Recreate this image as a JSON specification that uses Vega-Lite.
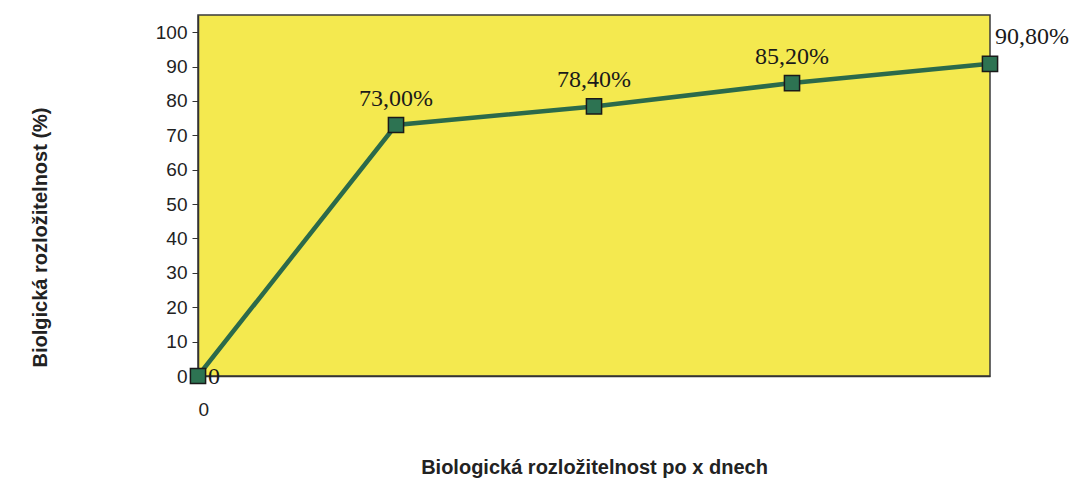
{
  "$schema": "https://vega.github.io/schema/vega-lite/v6.json",
  "autosize": "none",
  "width": 792,
  "height": 361,
  "padding": {"left": 198, "top": 15, "right": 90, "bottom": 105},
  "background": "white",
  "config": {
    "view": {"stroke": "#3a3a3a", "strokeWidth": 1.5, "fill": "#f4e94f"},
    "axis": {"grid": false, "labelFont": "Liberation Sans", "titleFont": "Liberation Sans", "labelColor": "#222", "titleColor": "#222", "domainColor": "#333", "tickColor": "#333"}
  },
  "data": {
    "values": [
      {"den": 0, "rozl": 0, "label": "0"},
      {"den": 1, "rozl": 73.0, "label": "73,00%"},
      {"den": 2, "rozl": 78.4, "label": "78,40%"},
      {"den": 3, "rozl": 85.2, "label": "85,20%"},
      {"den": 4, "rozl": 90.8, "label": "90,80%"}
    ]
  },
  "encoding": {
    "x": {
      "field": "den", "type": "quantitative",
      "scale": {"domain": [0, 4], "nice": false, "zero": false},
      "axis": {
        "values": [0], "tickSize": 0, "labelPadding": 24, "labelFontSize": 19,
        "domainWidth": 1.5,
        "title": "Biologická rozložitelnost po x dnech",
        "titleFontSize": 20, "titleFontWeight": "bold",
        "titleY": 97, "titleBaseline": "alphabetic"
      }
    },
    "y": {
      "field": "rozl", "type": "quantitative",
      "scale": {"domain": [0, 105], "nice": false},
      "axis": {
        "values": [0, 10, 20, 30, 40, 50, 60, 70, 80, 90, 100],
        "tickSize": 6, "labelPadding": 5, "labelFontSize": 19, "domainWidth": 1.5,
        "title": "Biolgická rozložitelnost (%)",
        "titleFontSize": 20, "titleFontWeight": "bold",
        "titleX": -158, "titleY": 222, "titleAngle": -90,
        "titleBaseline": "middle", "titleAlign": "center"
      }
    }
  },
  "layer": [
    {
      "data": {"values": [{}]},
      "mark": {
        "type": "rect",
        "color": {
          "gradient": "linear", "x1": 0, "y1": 0, "x2": 1, "y2": 0,
          "stops": [
            {"offset": 0, "color": "#f5ea50"},
            {"offset": 0.6, "color": "#f5e847"},
            {"offset": 0.8, "color": "#f7e41c"},
            {"offset": 0.95, "color": "#f6e430"},
            {"offset": 1, "color": "#f5e63e"}
          ]
        }
      },
      "encoding": {
        "x": {"datum": 0, "type": "quantitative"},
        "x2": {"datum": 4},
        "y": {"datum": 0, "type": "quantitative"},
        "y2": {"datum": 105}
      }
    },
    {
      "mark": {"type": "line", "color": "#2b6a4b", "strokeWidth": 4.5}
    },
    {
      "mark": {"type": "point", "shape": "square", "size": 230, "filled": true, "fill": "#2d7352", "stroke": "#1a1a1a", "strokeWidth": 1.5, "opacity": 1}
    },
    {
      "transform": [{"filter": "datum.den == 0"}],
      "mark": {"type": "text", "font": "Liberation Serif", "fontSize": 24, "align": "left", "baseline": "middle", "dx": 10, "dy": 1, "color": "#1a1a1a"},
      "encoding": {"text": {"field": "label"}}
    },
    {
      "transform": [{"filter": "datum.den > 0 && datum.den < 4"}],
      "mark": {"type": "text", "font": "Liberation Serif", "fontSize": 24, "align": "center", "baseline": "alphabetic", "dy": -19, "color": "#1a1a1a"},
      "encoding": {"text": {"field": "label"}}
    },
    {
      "transform": [{"filter": "datum.den == 4"}],
      "mark": {"type": "text", "font": "Liberation Serif", "fontSize": 24, "align": "left", "baseline": "alphabetic", "dx": 5, "dy": -20, "color": "#1a1a1a"},
      "encoding": {"text": {"field": "label"}}
    }
  ]
}
